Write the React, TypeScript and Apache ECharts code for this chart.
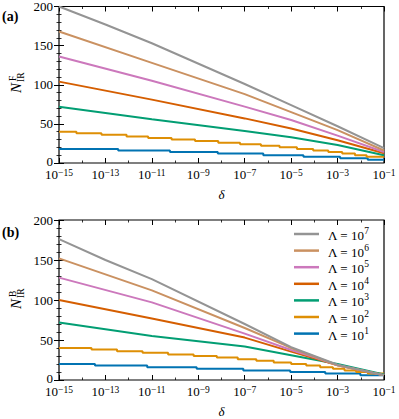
import React, { useEffect, useRef } from 'react';
import * as echarts from 'echarts';

const FONT = 'Liberation Serif, Times New Roman, serif';

// Λ exponents in legend order (top to bottom) and their colours
const LAMBDA_EXPONENTS = ['7', '6', '5', '4', '3', '2', '1'];
const COLORS = ['#949494', '#ca9161', '#cc78bc', '#d55e00', '#029e73', '#de8f05', '#0173b2'];

// x = log10(δ), y = N_IR
// Panel (a): N^F_IR
const A_L7 = [[-15, 200], [-13, 177], [-11, 153], [-7, 101], [-5, 74], [-3, 47], [-1, 19]];
const A_L6 = [[-15, 168], [-11, 128], [-7, 88], [-5, 65], [-3, 42], [-1, 16]];
const A_L5 = [[-15, 136], [-11, 105], [-7, 72], [-5, 55], [-3, 35], [-1, 14]];
const A_L4 = [[-15, 104], [-11, 81], [-7, 57], [-5, 44], [-3, 29], [-1, 12.5]];
const A_L3 = [[-15, 72], [-11, 56], [-7, 41], [-5, 33], [-3, 23], [-1, 10]];
const A_L2 = [
  [-15, 40], [-14.25, 38], [-13.17, 36], [-12.09, 34], [-11.16, 32], [-10.15, 30],
  [-9.14, 28], [-8.14, 26], [-7.2, 24], [-6.3, 22], [-5.5, 20], [-4.75, 18],
  [-4.05, 16], [-3.4, 14], [-2.8, 12], [-2.25, 10], [-1.75, 8], [-1, 8],
];
const A_L1 = [
  [-15, 18], [-12.45, 16], [-10.22, 14], [-8.16, 12], [-6.2, 10], [-4.47, 8],
  [-2.89, 6], [-1.7, 4], [-1, 4],
];

// Panel (b): N^B_IR
const B_L7 = [[-15, 176], [-13, 150], [-11, 126], [-7, 70], [-5, 41], [-3, 19], [-1, 6]];
const B_L6 = [[-15, 152], [-11, 112], [-7, 65], [-5.3, 44], [-5, 40], [-3, 18.5], [-1, 6]];
const B_L5 = [[-15, 128], [-11, 97], [-7, 58], [-5, 37.5], [-4, 28.5], [-3, 18.5], [-1, 6]];
const B_L4 = [[-15, 100], [-11, 77], [-7, 53], [-5, 35.5], [-4, 27], [-3, 18.5], [-1, 6]];
const B_L3 = [[-15, 72], [-11, 55], [-7, 42], [-5, 31], [-3, 20], [-1, 7]];
const B_L2 = [
  [-15, 40], [-13.6, 38], [-12.5, 36], [-11.4, 34], [-10.3, 32], [-9.2, 30],
  [-8.2, 28], [-7.3, 26], [-6.5, 24], [-5.75, 22], [-5.0, 20], [-4.35, 18],
  [-3.75, 16], [-3.2, 14], [-2.7, 12], [-2.2, 10], [-1.7, 8], [-1, 8],
];
const B_L1 = [
  [-15, 20], [-13.45, 18], [-11.2, 16], [-9.07, 14], [-7.06, 12], [-5.04, 10],
  [-3.53, 8], [-2.02, 6], [-1, 6],
];

const PANEL_A = [A_L7, A_L6, A_L5, A_L4, A_L3, A_L2, A_L1];
const PANEL_B = [B_L7, B_L6, B_L5, B_L4, B_L3, B_L2, B_L1];
const STEPPED = [false, false, false, false, false, true, true];

const X_MIN_EXP = -15;
const X_MAX_EXP = -1;
const Y_MIN = 0;
const Y_MAX = 200;
const Y_STEP = 50;

const seriesName = (e: string) => 'Λ = 10^' + e;

const GRIDS = [
  { left: 59, top: 4, width: 325, height: 159 },
  { left: 59, top: 220, width: 325, height: 160 },
];

function xAxesFor(g: number) {
  const span = X_MAX_EXP - X_MIN_EXP;
  const tickLine = { color: '#000', width: 1 };
  const deco = (position: 'top' | 'bottom', labels: boolean) => ({
    gridIndex: g,
    type: 'value',
    position,
    min: 0,
    max: span,
    interval: 2,
    axisLine: { show: false },
    axisTick: { show: true, inside: true, length: 5, lineStyle: tickLine },
    minorTick: { show: true, splitNumber: 2, length: 2.5, lineStyle: { color: '#000', width: 0.8 } },
    splitLine: { show: false },
    axisLabel: labels
      ? {
          show: true,
          margin: 5,
          formatter: (v: number) => '{b|10}{s|−' + String(-(X_MIN_EXP + v)) + '}',
          rich: {
            b: { fontFamily: FONT, fontSize: 13, color: '#000', lineHeight: 13, verticalAlign: 'bottom' },
            s: { fontFamily: FONT, fontSize: 9.5, color: '#000', lineHeight: 10, verticalAlign: 'top' },
          },
        }
      : { show: false },
    name: labels ? 'δ' : '',
    nameLocation: 'middle',
    nameGap: 25,
    nameTextStyle: { fontFamily: FONT, fontStyle: 'italic', fontSize: 13, color: '#000' },
  });
  return [
    { gridIndex: g, type: 'value', position: 'bottom', min: X_MIN_EXP, max: X_MAX_EXP, show: false },
    deco('bottom', true),
    deco('top', false),
  ];
}

function yAxesFor(g: number) {
  const mk = (position: 'left' | 'right', labels: boolean) => ({
    gridIndex: g,
    type: 'value',
    position,
    min: Y_MIN,
    max: Y_MAX,
    interval: Y_STEP,
    axisLine: { show: false },
    axisTick: { show: true, inside: true, length: 5, lineStyle: { color: '#000', width: 1 } },
    minorTick: { show: true, splitNumber: 5, length: 2.5, lineStyle: { color: '#000', width: 0.8 } },
    splitLine: { show: false },
    axisLabel: labels
      ? {
          show: true,
          margin: 6,
          fontFamily: FONT,
          fontSize: 13,
          lineHeight: 8,
          color: '#000',
          formatter: (v: number) => (v === Y_MIN ? '{z|' + v + '}' : String(v)),
          rich: {
            z: { fontFamily: FONT, fontSize: 13, color: '#000', lineHeight: 8, padding: [0, 0, 4, 0] },
          },
        }
      : { show: false },
  });
  return [mk('left', true), mk('right', false)];
}

function yName(x: number, y: number, sup: string) {
  return {
    type: 'group',
    x,
    y,
    rotation: Math.PI / 2,
    children: [
      {
        type: 'text',
        x: 0,
        y: 0,
        style: { text: 'N', fontFamily: FONT, fontStyle: 'italic', fontSize: 15, fill: '#000', textAlign: 'left', textVerticalAlign: 'bottom' },
      },
      {
        type: 'text',
        x: 12,
        y: -5.5,
        style: { text: sup, fontFamily: FONT, fontSize: 9.5, fill: '#000', textAlign: 'left', textVerticalAlign: 'bottom' },
      },
      {
        type: 'text',
        x: 11,
        y: 3,
        style: { text: 'IR', fontFamily: FONT, fontSize: 9.5, fill: '#000', textAlign: 'left', textVerticalAlign: 'bottom' },
      },
    ],
  };
}

export default function App() {
  const ref = useRef<HTMLDivElement>(null);

  useEffect(() => {
    if (!ref.current) return;
    const chart = echarts.init(ref.current, undefined, { renderer: 'svg' });

    const series: any[] = [];
    [PANEL_A, PANEL_B].forEach((panel, p) => {
      // draw Λ=10^1 first so that Λ=10^7 lies on top
      for (let i = panel.length - 1; i >= 0; i--) {
        series.push({
          type: 'line',
          name: seriesName(LAMBDA_EXPONENTS[i]),
          data: panel[i],
          xAxisIndex: p * 3,
          yAxisIndex: p * 2,
          symbol: 'none',
          showSymbol: false,
          step: STEPPED[i] ? 'end' : false,
          lineStyle: { color: COLORS[i], width: 2 },
          itemStyle: { color: COLORS[i] },
          emphasis: { disabled: true },
          clip: true,
        });
      }
    });

    const option: any = {
      animation: false,
      backgroundColor: '#fff',
      textStyle: { fontFamily: FONT },
      grid: GRIDS.map((g) => ({
        ...g,
        show: true,
        borderColor: '#000',
        borderWidth: 1.2,
        backgroundColor: 'transparent',
        containLabel: false,
      })),
      xAxis: [...xAxesFor(0), ...xAxesFor(1)],
      yAxis: [...yAxesFor(0), ...yAxesFor(1)],
      legend: {
        show: true,
        left: 294,
        top: 226,
        orient: 'vertical',
        padding: 0,
        itemWidth: 25,
        itemHeight: 2.5,
        itemGap: 0.6,
        icon: 'rect',
        data: LAMBDA_EXPONENTS.map(seriesName),
        formatter: (name: string) => '{b|' + name.split('^')[0] + '}{s|' + name.split('^')[1] + '}',
        textStyle: {
          fontFamily: FONT,
          rich: {
            b: { fontFamily: FONT, fontSize: 13, color: '#000', lineHeight: 16, verticalAlign: 'bottom', padding: [0, 0, 0, 4] },
            s: { fontFamily: FONT, fontSize: 9.5, color: '#000', lineHeight: 10, verticalAlign: 'top' },
          },
        },
        selectedMode: false,
      },
      graphic: [
        {
          type: 'text',
          x: 2,
          y: 16,
          style: { text: '(a)', fontFamily: FONT, fontWeight: 'bold', fontSize: 14, fill: '#000', textAlign: 'left', textVerticalAlign: 'middle' },
        },
        {
          type: 'text',
          x: 2,
          y: 232,
          style: { text: '(b)', fontFamily: FONT, fontWeight: 'bold', fontSize: 14, fill: '#000', textAlign: 'left', textVerticalAlign: 'middle' },
        },
        yName(23, 93, 'F'),
        yName(23, 309, 'B'),
      ],
      series,
    };

    chart.setOption(option);
    return () => chart.dispose();
  }, []);

  return <div ref={ref} style={{ position: 'absolute', left: 0, top: 0, width: 399, height: 419 }} />;
}
